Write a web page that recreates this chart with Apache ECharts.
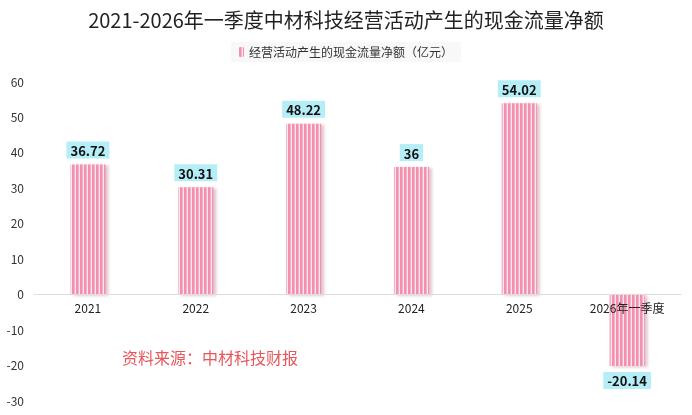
<!DOCTYPE html>
<html><head><meta charset="utf-8">
<script src="https://cdn.jsdelivr.net/npm/echarts@6/dist/echarts.min.js"></script>
<style>html,body{margin:0;padding:0;background:#fff}#c{width:692px;height:415px}</style>
</head><body><div id="c"></div>
<script>
const categories = ['2021','2022','2023','2024','2025','2026年一季度'];
const values = [36.72, 30.31, 48.22, 36, 54.02, -20.14];
const seriesName = '经营活动产生的现金流量净额（亿元）';
const yTicks = {min:-30, max:60, interval:10};

function stripe(){
  const c = document.createElement('canvas');
  c.width = 4; c.height = 4;
  const g = c.getContext('2d');
  g.fillStyle = '#f290ae'; g.fillRect(0,0,4,4);
  g.fillStyle = '#fde6ee'; g.fillRect(2.6,0,1.4,4);
  return c;
}
const pat = {image: stripe(), repeat: 'repeat'};

const W = 692, H = 415, gTop = 82, gBottom = 14;
const gridH = H - gTop - gBottom;
const zeroOffset = -gridH * (0 - yTicks.min) / (yTicks.max - yTicks.min);

const chart = echarts.init(document.getElementById('c'));
chart.setOption({
  animation:false,
  title:{text:'2021-2026年一季度中材科技经营活动产生的现金流量净额',left:'center',top:5,
    textStyle:{fontSize:20,fontWeight:'normal',color:'#222',fontFamily:'Noto Sans CJK SC'}},
  legend:{top:42,left:'center',itemWidth:5,itemHeight:10,backgroundColor:'#f8f8f8',padding:[4,8],
    textStyle:{fontSize:12,color:'#333',fontFamily:'Noto Sans CJK SC'}},
  grid:{left:34,right:11,top:gTop,bottom:gBottom,containLabel:false},
  graphic:[{type:'text',left:122,top:350,style:{text:'资料来源：中材科技财报',fill:'#e8555a',fontSize:16,fontFamily:'Noto Sans CJK SC'}}],
  xAxis:{type:'category',data:categories,position:'bottom',offset:zeroOffset,z:10,
    axisLine:{onZero:false,lineStyle:{color:'#dddddd'}},axisTick:{show:false},
    axisLabel:{color:'#222',fontSize:12,margin:8,fontFamily:'Noto Sans CJK SC'}},
  yAxis:{type:'value',min:yTicks.min,max:yTicks.max,interval:yTicks.interval,
    axisLine:{show:false},axisTick:{show:false},splitLine:{show:false},
    axisLabel:{color:'#333',fontSize:12,margin:10,fontFamily:'Noto Sans CJK SC'}},
  series:[{type:'bar',name:seriesName,z:2,
    data:values.map(v => v < 0 ? {value:v,label:{position:'bottom'}} : v),
    barWidth:35,
    itemStyle:{color:pat,shadowColor:'rgba(200,150,165,0.55)',shadowBlur:3,shadowOffsetX:3,shadowOffsetY:1},
    label:{show:true,position:'top',distance:6,formatter:p=>p.value,
      backgroundColor:'#b6eef8',padding:[3,4,1,4],color:'#111',fontWeight:'bold',fontSize:13,fontFamily:'Noto Sans CJK SC'}
  }]
});
</script></body></html>
